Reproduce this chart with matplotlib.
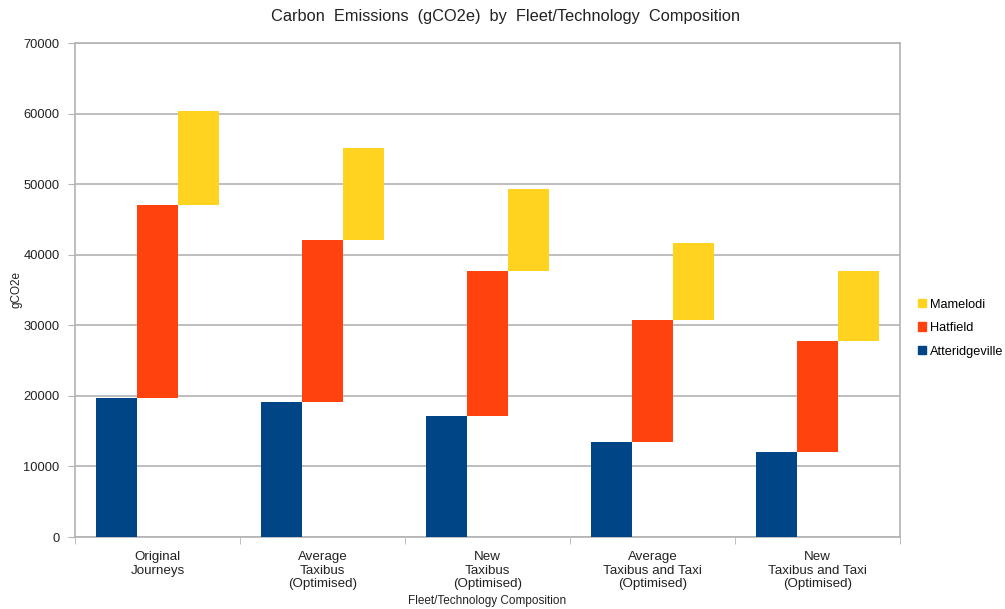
import numpy as np
import matplotlib.pyplot as plt
from matplotlib.patches import Patch

plt.rcParams['font.family'] = ['Liberation Sans', 'DejaVu Sans']

compositions = ['Original\nJourneys',
                'Average\nTaxibus\n(Optimised)',
                'New\nTaxibus\n(Optimised)',
                'Average\nTaxibus and Taxi\n(Optimised)',
                'New\nTaxibus and Taxi\n(Optimised)']
atteridgeville = [19650, 19170, 17190, 13420, 12090]
hatfield = [27400, 22920, 20500, 17330, 15730]
mamelodi = [13350, 12990, 11620, 10950, 9870]

colors = {'Atteridgeville': '#004586', 'Hatfield': '#ff420e', 'Mamelodi': '#ffd320'}
grid_gray = '#b3b3b3'

x = np.arange(len(compositions))
w = 0.25
att = np.array(atteridgeville)
hat = np.array(hatfield)
mam = np.array(mamelodi)

fig = plt.figure(figsize=(10.05, 6.09), dpi=100)
ax = fig.add_axes([75 / 1005, 72 / 609, 825 / 1005, 494 / 609])

# each region sits on top of the previous one, shifted sideways
ax.bar(x - w, att, w, color=colors['Atteridgeville'], zorder=3)
ax.bar(x, hat, w, bottom=att, color=colors['Hatfield'], zorder=3)
ax.bar(x + w, mam, w, bottom=att + hat, color=colors['Mamelodi'], zorder=3)

ax.set_xlim(-0.5, len(compositions) - 0.5)
ax.set_ylim(0, 70000)
ax.set_yticks(np.arange(0, 70001, 10000))
ax.yaxis.grid(True, color=grid_gray, linewidth=1.2, zorder=0)
ax.set_xticks(x)
ax.set_xticklabels(compositions, fontsize=9.6, color='#222222', linespacing=1.2)
ax.set_xticks(np.arange(-0.5, len(compositions)), minor=True)
ax.tick_params(axis='x', which='major', length=0, pad=10)
ax.tick_params(axis='x', which='minor', length=5, color=grid_gray)
ax.tick_params(axis='y', length=5, color=grid_gray, labelsize=9.3, labelcolor='#222222', pad=6)
for s in ax.spines.values():
    s.set_color(grid_gray)
    s.set_linewidth(1.2)

ax.set_ylabel('gCO2e', fontsize=8.5, color='#222222')
ax.yaxis.set_label_coords(-0.064, 0.5)
ax.set_xlabel('Fleet/Technology Composition', fontsize=8.5, color='#222222')
ax.xaxis.set_label_coords(0.5, -0.118)
fig.text(506 / 1005, 1 - 17 / 609,
         'Carbon  Emissions  (gCO2e)  by  Fleet/Technology  Composition',
         ha='center', va='center', fontsize=11.8, color='#222222')

handles = [Patch(color=colors[k]) for k in ['Mamelodi', 'Hatfield', 'Atteridgeville']]
fig.legend(handles, ['Mamelodi', 'Hatfield', 'Atteridgeville'],
           loc='center left', bbox_to_anchor=(912 / 1005, 1 - 328 / 609),
           frameon=False, fontsize=9.2, handlelength=0.6, handleheight=0.6,
           handletextpad=0.3, labelspacing=0.9, borderpad=0)

fig.savefig('out.png', dpi=100, facecolor='white')
